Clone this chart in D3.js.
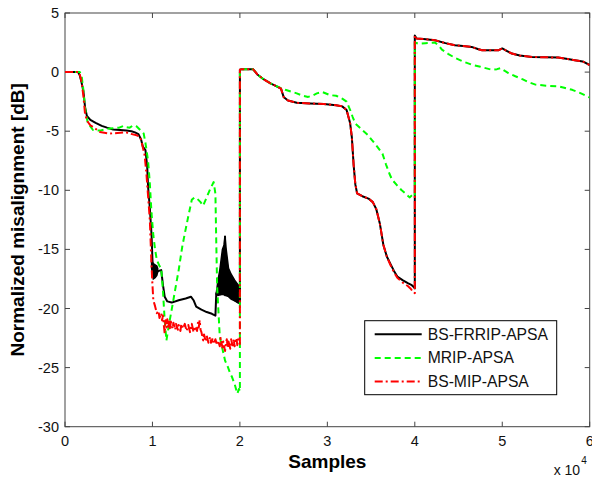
<!DOCTYPE html>
<html>
<head>
<meta charset="utf-8">
<script src="https://cdn.jsdelivr.net/npm/d3@7"></script>
<style>
  body { margin: 0; background: #fff; }
  text { font-family: Arial, "Liberation Sans", sans-serif; }
</style>
</head>
<body>
<svg id="drawing_region"></svg>
<script>
// x values are in units of 10^4 samples
const xTicks = [0, 1, 2, 3, 4, 5, 6];
const yTicks = [-30, -25, -20, -15, -10, -5, 0, 5];
const seriesNames = ['BS-FRRIP-APSA', 'MRIP-APSA', 'BS-MIP-APSA'];

const frripData = [
  [0,0],[0.15,0],[0.17,-0.3],[0.19,-0.9],[0.21,-1.6],[0.23,-3.0],[0.25,-3.7],[0.29,-4.05],[0.35,-4.3],
  [0.42,-4.55],[0.48,-4.7],[0.55,-4.85],[0.63,-4.9],[0.70,-4.95],[0.76,-5.0],[0.80,-5.1],[0.84,-5.25],
  [0.87,-5.7],[0.89,-6.3],[0.92,-6.6],[0.94,-8.0],[0.95,-9.7],[0.97,-11.5],[0.99,-13.8],[1.0,-15.9],
  [1.01,-17.0],[1.03,-16.8],[1.05,-16.9],[1.08,-16.8],[1.10,-16.75],
  [1.12,-18.0],[1.14,-19.0],[1.17,-19.4],[1.22,-19.5],[1.30,-19.3],[1.38,-19.15],[1.44,-19.0],[1.47,-19.3],
  [1.50,-19.85],[1.56,-20.1],[1.62,-20.3],[1.68,-20.45],[1.72,-20.6],[1.73,-18.7],[1.77,-18.7],[1.80,-18.6],
  [1.83,-13.9],[1.84,-18.7],[1.88,-18.9],[1.94,-19.3],[1.98,-19.5],[2.0,-19.5],
  [2.0,0.2],[2.02,0.25],[2.15,0.25],[2.2,-0.2],[2.27,-0.6],[2.35,-0.95],[2.42,-1.2],[2.47,-1.4],[2.50,-2.1],
  [2.55,-2.4],[2.65,-2.6],[2.8,-2.65],[2.96,-2.7],[3.1,-2.8],[3.17,-2.9],[3.22,-3.2],[3.26,-4.3],[3.28,-5.5],
  [3.30,-7.8],[3.32,-9.5],[3.34,-10.25],[3.40,-10.5],[3.47,-10.7],[3.52,-11.0],[3.56,-11.6],[3.60,-12.8],
  [3.64,-14.6],[3.68,-15.6],[3.72,-16.2],[3.76,-16.8],[3.80,-17.3],[3.86,-17.6],[3.92,-17.85],[3.96,-18.0],
  [3.99,-18.2],[4.0,-18.3],
  [4.0,3.1],[4.02,2.85],[4.1,2.8],[4.23,2.7],[4.35,2.45],[4.46,2.27],[4.55,2.2],[4.65,2.13],[4.72,1.95],
  [4.77,1.85],[4.9,1.85],[4.96,1.85],[5.0,2.0],[5.05,1.8],[5.11,1.57],[5.2,1.4],[5.34,1.28],[5.5,1.25],
  [5.64,1.23],[5.75,1.1],[5.83,1.0],[5.92,0.9],[6.0,0.6]
];

// oscillating parts of BS-FRRIP-APSA (envelopes)
const frripBlobX      = [0.99, 1.01, 1.03, 1.05, 1.06];
const frripBlobTop    = [-16.0, -16.2, -16.3, -16.4, -16.6];
const frripBlobBottom = [-16.6, -17.5, -17.4, -17.2, -16.9];

const frripBandX      = [1.73, 1.75, 1.77, 1.80, 1.82, 1.83, 1.84, 1.87, 1.90, 1.94, 1.98, 2.0];
const frripBandTop    = [-18.7, -17.6, -16.75, -15.0, -14.6, -13.9, -14.8, -16.6, -17.1, -17.6, -18.0, -18.2];
const frripBandBottom = [-18.8, -18.9, -18.85, -18.8, -18.85, -18.9, -18.9, -19.0, -19.2, -19.35, -19.5, -19.6];

const mripData = [
  [0,0],[0.17,0],[0.19,-0.3],[0.21,-1.5],[0.23,-3.1],[0.26,-4.3],[0.32,-4.9],[0.40,-4.95],[0.48,-4.8],
  [0.55,-4.75],[0.62,-4.7],[0.67,-4.55],[0.70,-4.65],[0.74,-4.7],[0.78,-4.5],[0.82,-4.6],[0.86,-4.9],
  [0.90,-5.2],[0.92,-6.0],[0.95,-7.5],[0.97,-9.4],[0.99,-12.0],[1.01,-13.8],[1.03,-15.0],[1.05,-15.9],
  [1.08,-16.4],[1.10,-16.6],[1.12,-18.5],[1.14,-21.0],[1.16,-22.7],[1.19,-21.3],[1.22,-20.1],[1.26,-18.4],
  [1.30,-16.75],[1.34,-14.8],[1.37,-13.65],[1.41,-12.2],[1.45,-10.8],[1.48,-10.6],[1.51,-10.7],[1.55,-11.0],
  [1.58,-11.3],[1.62,-10.6],[1.66,-9.9],[1.70,-9.3],[1.72,-10.3],[1.73,-14.5],[1.74,-18.2],[1.76,-21.0],
  [1.77,-22.4],[1.80,-23.4],[1.83,-24.4],[1.86,-24.9],[1.89,-25.5],[1.91,-25.8],[1.94,-26.4],[1.97,-27.2],
  [1.99,-26.8],[2.0,-27.0],
  [2.0,0.2],[2.02,0.25],[2.15,0.25],[2.2,-0.2],[2.27,-0.6],[2.35,-0.95],[2.42,-1.2],[2.47,-1.35],[2.52,-1.5],
  [2.60,-1.68],[2.65,-1.8],[2.72,-2.0],[2.78,-2.1],[2.84,-1.95],[2.88,-1.8],[2.94,-1.68],[3.03,-1.95],
  [3.10,-2.0],[3.17,-2.25],[3.22,-2.5],[3.26,-3.2],[3.29,-3.8],[3.32,-4.35],[3.40,-4.9],[3.46,-5.3],
  [3.51,-5.75],[3.57,-6.3],[3.63,-6.9],[3.67,-7.8],[3.71,-8.6],[3.74,-9.1],[3.80,-9.6],[3.85,-10.0],
  [3.89,-10.25],[3.94,-10.6],[3.97,-10.4],[4.0,-10.5],
  [4.0,2.5],[4.04,2.4],[4.12,2.45],[4.23,2.5],[4.28,2.2],[4.31,1.9],[4.38,1.55],[4.46,1.2],[4.55,0.9],
  [4.65,0.63],[4.75,0.45],[4.88,0.2],[4.94,0.25],[4.98,0.34],[5.03,0.1],[5.07,-0.08],[5.15,-0.35],
  [5.23,-0.6],[5.30,-0.85],[5.38,-1.06],[5.5,-1.15],[5.64,-1.2],[5.72,-1.35],[5.80,-1.5],[5.90,-1.8],[6.0,-2.15]
];

const mipData = [
  [0,0],[0.16,0],[0.18,-0.5],[0.19,-0.9],[0.21,-2.0],[0.23,-3.6],[0.26,-4.2],[0.29,-4.5],[0.35,-4.8],
  [0.40,-5.06],[0.51,-5.2],[0.60,-5.15],[0.70,-5.1],[0.74,-5.2],[0.82,-5.35],[0.86,-5.5],[0.88,-6.05],
  [0.91,-7.0],[0.93,-8.5],[0.95,-10.5],[0.97,-12.5],[0.99,-16.5],[1.0,-18.0],[1.01,-19.3],[1.03,-19.8],
  [1.05,-20.4],[1.07,-20.2],[1.08,-20.8],[1.10,-20.4],[1.11,-21.0],[1.12,-20.6],[1.13,-21.4],[1.14,-22.1],
  [1.15,-21.0],[1.16,-21.6],[1.17,-20.9],[1.18,-21.7],[1.19,-21.1],[1.20,-21.8],[1.21,-21.1],[1.23,-21.7],
  [1.24,-21.2],[1.26,-21.8],[1.27,-21.3],[1.29,-21.8],[1.30,-21.4],[1.32,-21.9],[1.33,-21.3],[1.35,-21.7],
  [1.37,-21.3],[1.39,-21.9],[1.41,-21.4],[1.43,-22.0],[1.45,-21.3],[1.47,-22.0],[1.49,-21.5],[1.51,-21.9],
  [1.52,-21.2],[1.53,-21.6],[1.54,-21.0],[1.55,-21.8],[1.56,-22.0],[1.58,-22.7],[1.59,-22.2],[1.61,-22.8],
  [1.62,-22.3],[1.64,-22.9],[1.66,-22.4],[1.67,-22.9],[1.69,-22.5],[1.70,-23.0],[1.72,-22.6],[1.74,-23.1],
  [1.75,-22.7],[1.77,-23.2],[1.78,-22.5],[1.80,-23.3],[1.81,-22.8],[1.83,-23.6],[1.84,-23.0],[1.85,-22.6],
  [1.86,-23.3],[1.87,-22.8],[1.89,-23.4],[1.90,-22.6],[1.92,-23.3],[1.93,-22.7],[1.94,-23.2],[1.96,-22.5],
  [1.97,-23.1],[1.98,-22.6],[2.0,-23.0],
  [2.0,0.2],[2.02,0.25],[2.15,0.25],[2.2,-0.2],[2.27,-0.6],[2.35,-0.95],[2.42,-1.2],[2.47,-1.4],[2.50,-2.1],
  [2.55,-2.4],[2.65,-2.6],[2.8,-2.65],[2.96,-2.7],[3.1,-2.8],[3.17,-2.9],[3.22,-3.2],[3.26,-4.3],[3.28,-5.5],
  [3.30,-7.8],[3.32,-9.5],[3.34,-10.25],[3.40,-10.5],[3.47,-10.7],[3.52,-11.0],[3.56,-11.6],[3.60,-12.8],
  [3.64,-14.6],[3.68,-15.6],[3.72,-16.3],[3.76,-16.9],[3.80,-17.4],[3.86,-17.8],[3.92,-18.1],[3.95,-18.3],
  [3.98,-18.6],[4.0,-18.7],
  [4.0,3.1],[4.02,2.85],[4.1,2.8],[4.23,2.7],[4.35,2.45],[4.46,2.27],[4.55,2.2],[4.65,2.13],[4.72,1.95],
  [4.77,1.85],[4.9,1.85],[4.96,1.85],[5.0,2.0],[5.05,1.8],[5.11,1.57],[5.2,1.4],[5.34,1.28],[5.5,1.25],
  [5.64,1.23],[5.75,1.1],[5.83,1.0],[5.92,0.9],[6.0,0.6]
];

class LineChart {

    constructor( config, series ) {
        this.config = {
            parent: config.parent,
            width: config.width || 592,
            height: config.height || 477,
            margin: config.margin || {top:13, right:2, bottom:50, left:65},
        }
        this.series = series;
        this.init();
    }

    init() {
        let self = this;

        self.svg = d3.select(self.config.parent)
            .attr('width', self.config.width)
            .attr('height', self.config.height);

        self.chart = self.svg.append('g')
            .attr('transform', `translate(${self.config.margin.left}, ${self.config.margin.top})`);

        self.inner_width = self.config.width - self.config.margin.left - self.config.margin.right;
        self.inner_height = self.config.height - self.config.margin.top - self.config.margin.bottom;

        self.xscale = d3.scaleLinear()
            .domain([0, 6])
            .range([0, self.inner_width]);

        self.yscale = d3.scaleLinear()
            .domain([-30, 5])
            .range([self.inner_height, 0]);

        self.line = d3.line()
            .x(d => self.xscale(d[0]))
            .y(d => self.yscale(d[1]));

        self.svg.append('clipPath')
            .attr('id', 'plot_clip')
            .append('rect')
            .attr('width', self.inner_width)
            .attr('height', self.inner_height);
    }

    update() {
        let self = this;
        self.render();
    }

    band(xs, top, bottom) {
        let self = this;
        return d3.area()
            .x((d, i) => self.xscale(xs[i]))
            .y0((d, i) => self.yscale(bottom[i]))
            .y1((d, i) => self.yscale(top[i]))(xs);
    }

    render() {
        let self = this;
        const W = self.inner_width, H = self.inner_height;
        const axisColor = '#444';

        // box + inward ticks on all four sides
        const grid = self.chart.append('g');
        grid.append('rect')
            .attr('width', W).attr('height', H)
            .attr('fill', 'none').attr('stroke', axisColor).attr('stroke-width', 1);

        grid.selectAll('.xt').data(xTicks).enter().append('path')
            .attr('d', d => `M${self.xscale(d)},${H}v-5M${self.xscale(d)},0v5`)
            .attr('stroke', axisColor);
        grid.selectAll('.yt').data(yTicks).enter().append('path')
            .attr('d', d => `M0,${self.yscale(d)}h5M${W},${self.yscale(d)}h-5`)
            .attr('stroke', axisColor);

        grid.selectAll('.xl').data(xTicks).enter().append('text')
            .attr('x', d => self.xscale(d))
            .attr('y', H + 19)
            .attr('text-anchor', 'middle')
            .attr('font-size', '14.5px')
            .attr('fill', '#111')
            .text(d => d);
        grid.selectAll('.yl').data(yTicks).enter().append('text')
            .attr('x', -6)
            .attr('y', d => self.yscale(d) + 5)
            .attr('text-anchor', 'end')
            .attr('font-size', '14.5px')
            .attr('fill', '#111')
            .text(d => d);

        // curves
        const plot = self.chart.append('g').attr('clip-path', 'url(#plot_clip)');

        [[frripBlobX, frripBlobTop, frripBlobBottom], [frripBandX, frripBandTop, frripBandBottom]]
            .forEach(b => {
                plot.append('path')
                    .attr('d', self.band(b[0], b[1], b[2]))
                    .attr('fill', '#000')
                    .attr('stroke', '#000')
                    .attr('stroke-width', 1.5);
            });

        self.series.forEach(s => {
            plot.append('path')
                .attr('d', self.line(s.data))
                .attr('fill', 'none')
                .attr('stroke', s.color)
                .attr('stroke-width', 2)
                .attr('stroke-dasharray', s.dash)
                .attr('stroke-linejoin', 'round');
        });

        // legend
        const legend = self.chart.append('g')
            .attr('transform', `translate(${W - 225}, ${H - 106})`);
        legend.append('rect')
            .attr('width', 192).attr('height', 74)
            .attr('fill', '#fff').attr('stroke', '#000').attr('stroke-width', 1);
        self.series.forEach((s, i) => {
            const y = 13.5 + i * 23.7;
            legend.append('line')
                .attr('x1', 10).attr('x2', 57).attr('y1', y).attr('y2', y)
                .attr('stroke', s.color).attr('stroke-width', 2)
                .attr('stroke-dasharray', s.dash);
            legend.append('text')
                .attr('x', 63).attr('y', y + 5.5)
                .attr('font-size', '15.7px')
                .attr('fill', '#111')
                .text(s.name);
        });

        // axis titles
        self.chart.append('text')
            .attr('x', W / 2).attr('y', H + 41.5)
            .attr('text-anchor', 'middle')
            .attr('font-size', '19px').attr('font-weight', 'bold')
            .text('Samples');
        self.chart.append('text')
            .attr('transform', `translate(-41, ${H / 2}) rotate(-90)`)
            .attr('text-anchor', 'middle')
            .attr('font-size', '19px').attr('font-weight', 'bold')
            .text('Normalized misalignment [dB]');

        const mult = self.chart.append('text')
            .attr('x', W - 36).attr('y', H + 48)
            .attr('font-size', '14px').attr('fill', '#111');
        mult.append('tspan').text('x 10');
        mult.append('tspan').attr('dy', -11).attr('dx', 1).attr('font-size', '10px').text('4');
    }
}

const series = [
    {name: seriesNames[0], data: frripData, color: '#000000', dash: null},
    {name: seriesNames[1], data: mripData, color: '#00ff00', dash: '6,4'},
    {name: seriesNames[2], data: mipData, color: '#ff0000', dash: '8,3,2,3'}
];

let chart = new LineChart({
    parent: '#drawing_region',
    width: 592,
    height: 477,
    margin: {top:13, right:2.3, bottom:50.3, left:65}
}, series);
chart.update();
</script>
</body>
</html>
